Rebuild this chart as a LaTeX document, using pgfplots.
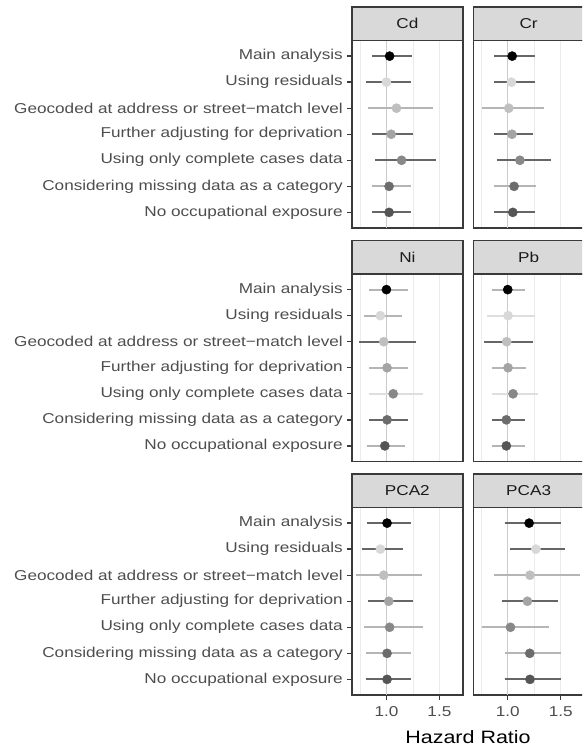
\documentclass[border=0pt]{standalone}
\usepackage{pgfplots}
\pgfplotsset{compat=1.18}
\usepackage{fontspec}
\setmainfont{Liberation Sans}[FakeStretch=1.2]
\definecolor{g20}{HTML}{3A3A3A}
\definecolor{g30}{HTML}{4D4D4D}
\definecolor{g10}{HTML}{1A1A1A}
\definecolor{stripfill}{HTML}{D9D9D9}
\definecolor{gridc}{HTML}{EBEBEB}
\definecolor{vline}{HTML}{CCCCCC}
\definecolor{pA}{HTML}{000000}
\definecolor{pB}{HTML}{D8D8D8}
\definecolor{pC}{HTML}{BFBFBF}
\definecolor{pD}{HTML}{A4A4A4}
\definecolor{pE}{HTML}{888888}
\definecolor{pF}{HTML}{6C6C6C}
\definecolor{pG}{HTML}{555555}
\definecolor{bD}{HTML}{666666}
\definecolor{bL}{HTML}{B5B5B5}
\definecolor{bV}{HTML}{DEDEDE}
\newcommand\axfont{\fontsize{14.3}{16}\selectfont}
\newcommand\titlefont{\fontsize{17.9}{20}\selectfont}
% \hr{row}{estimate}{lower}{upper}{point colour}{bar colour}
\newcommand\hr[6]{%
  \addplot[draw=#6, line width=2pt, forget plot] coordinates {(#3,#1) (#4,#1)};
  \addplot[only marks, mark=*, mark size=4.6pt, forget plot, mark options={fill=#5, draw=#5}] coordinates {(#2,#1)};
}
\pgfplotsset{
  panel/.style={
    scale only axis, anchor=north west,
    width=110.7pt, height=187.5pt,
    xmin=0.675, xmax=1.72, ymin=0.4, ymax=7.6, y dir=reverse,
    xtick={1,1.5}, minor xtick={0.75,1.25,1.75},
    ytick={1,2,3,4,5,6,7},
    tick pos=left, tick align=outside,
    major tick length=5pt, minor tick length=0pt,
    tick style={draw=g20, line width=1.4pt},
    xmajorgrids, xminorgrids,
    major grid style={draw=gridc, line width=1.1pt},
    minor grid style={draw=gridc, line width=0.6pt},
    axis line style={draw=g20, line width=1.6pt},
    /pgf/number format/assume math mode=true,
    yticklabel style={font=\axfont, text=g30, inner sep=0pt, xshift=-4pt},
    xticklabel style={font=\axfont, text=g30, inner sep=0pt, yshift=-6pt},
  },
  leftcol/.style={yticklabels={Main analysis, Using residuals, Geocoded at address or street−match level, Further adjusting for deprivation, Using only complete cases data, Considering missing data as a category, No occupational exposure}},
  rightcol/.style={yticklabels={}, ytick style={draw=none}, width=118pt, xmax=1.789},
  upperrow/.style={xticklabels={}, xtick style={draw=none}},
  bottomrow/.style={xticklabels={1.0,1.5}},
}
\newcommand\strip[4]{%
  \draw[fill=stripfill, draw=g20, line width=1.6pt] (#1pt,#2pt) rectangle ++(#4pt,33.5pt);
  \node[font=\axfont, text=g10] at (#1pt+55.35pt, #2pt+16.75pt) {#3};
}
\newcommand\refline{\addplot[draw=vline, line width=1.3pt, forget plot] coordinates {(1,0.4) (1,7.6)};}
\begin{document}
\begin{tikzpicture}
\useasboundingbox (0pt,0pt) rectangle (582pt,-751pt);
\clip (0pt,0pt) rectangle (582pt,-751pt);
% ---------- Cd ----------
\begin{axis}[panel, leftcol, upperrow, at={(352pt,-40.5pt)}]
\refline
\hr{1}{1.030}{0.860}{1.245}{pA}{bD}
\hr{2}{1.000}{0.810}{1.230}{pB}{bD}
\hr{3}{1.095}{0.830}{1.440}{pC}{bL}
\hr{4}{1.045}{0.860}{1.250}{pD}{bD}
\hr{5}{1.143}{0.890}{1.470}{pE}{bD}
\hr{6}{1.025}{0.860}{1.230}{pF}{bL}
\hr{7}{1.025}{0.860}{1.230}{pG}{bD}
\end{axis}
% ---------- Cr ----------
\begin{axis}[panel, rightcol, upperrow, at={(473.3pt,-40.5pt)}]
\refline
\hr{1}{1.042}{0.875}{1.260}{pA}{bD}
\hr{2}{1.035}{0.875}{1.260}{pB}{bD}
\hr{3}{1.010}{0.760}{1.340}{pC}{bL}
\hr{4}{1.040}{0.875}{1.240}{pD}{bD}
\hr{5}{1.115}{0.895}{1.410}{pE}{bD}
\hr{6}{1.060}{0.875}{1.265}{pF}{bL}
\hr{7}{1.048}{0.875}{1.260}{pG}{bD}
\end{axis}
% ---------- Ni ----------
\begin{axis}[panel, leftcol, upperrow, at={(352pt,-274pt)}]
\refline
\hr{1}{1.000}{0.840}{1.205}{pA}{bL}
\hr{2}{0.943}{0.790}{1.150}{pB}{bL}
\hr{3}{0.975}{0.745}{1.280}{pC}{bD}
\hr{4}{1.006}{0.840}{1.205}{pD}{bL}
\hr{5}{1.064}{0.840}{1.345}{pE}{bV}
\hr{6}{1.006}{0.840}{1.205}{pF}{bD}
\hr{7}{0.985}{0.815}{1.180}{pG}{bL}
\end{axis}
% ---------- Pb ----------
\begin{axis}[panel, rightcol, upperrow, at={(473.3pt,-274pt)}]
\refline
\hr{1}{1.000}{0.850}{1.160}{pA}{bL}
\hr{2}{1.003}{0.800}{1.256}{pB}{bV}
\hr{3}{0.990}{0.780}{1.240}{pC}{bD}
\hr{4}{1.003}{0.856}{1.176}{pD}{bL}
\hr{5}{1.050}{0.856}{1.290}{pE}{bV}
\hr{6}{0.987}{0.856}{1.163}{pF}{bD}
\hr{7}{0.987}{0.856}{1.163}{pG}{bL}
\end{axis}
% ---------- PCA2 ----------
\begin{axis}[panel, leftcol, bottomrow, at={(352pt,-507.5pt)}]
\refline
\hr{1}{1.006}{0.815}{1.230}{pA}{bD}
\hr{2}{0.943}{0.770}{1.156}{pB}{bD}
\hr{3}{0.975}{0.710}{1.340}{pC}{bL}
\hr{4}{1.022}{0.825}{1.250}{pD}{bD}
\hr{5}{1.030}{0.790}{1.347}{pE}{bL}
\hr{6}{1.006}{0.810}{1.230}{pF}{bL}
\hr{7}{1.006}{0.810}{1.230}{pG}{bD}
\end{axis}
% ---------- PCA3 ----------
\begin{axis}[panel, rightcol, bottomrow, at={(473.3pt,-507.5pt)}]
\refline
\hr{1}{1.202}{0.970}{1.500}{pA}{bD}
\hr{2}{1.266}{1.026}{1.545}{pB}{bD}
\hr{3}{1.210}{0.875}{1.680}{pC}{bL}
\hr{4}{1.186}{0.950}{1.470}{pD}{bD}
\hr{5}{1.026}{0.753}{1.390}{pE}{bL}
\hr{6}{1.208}{0.970}{1.500}{pF}{bL}
\hr{7}{1.210}{0.970}{1.500}{pG}{bD}
\end{axis}
% strips
\strip{352}{-40.5}{Cd}{110.7}
\strip{473.3}{-40.5}{Cr}{118}
\strip{352}{-274}{Ni}{110.7}
\strip{473.3}{-274}{Pb}{118}
\strip{352}{-507.5}{PCA2}{110.7}
\strip{473.3}{-507.5}{PCA3}{118}
\node[font=\titlefont, text=black] at (468pt,-737pt) {Hazard Ratio};
\end{tikzpicture}
\end{document}
